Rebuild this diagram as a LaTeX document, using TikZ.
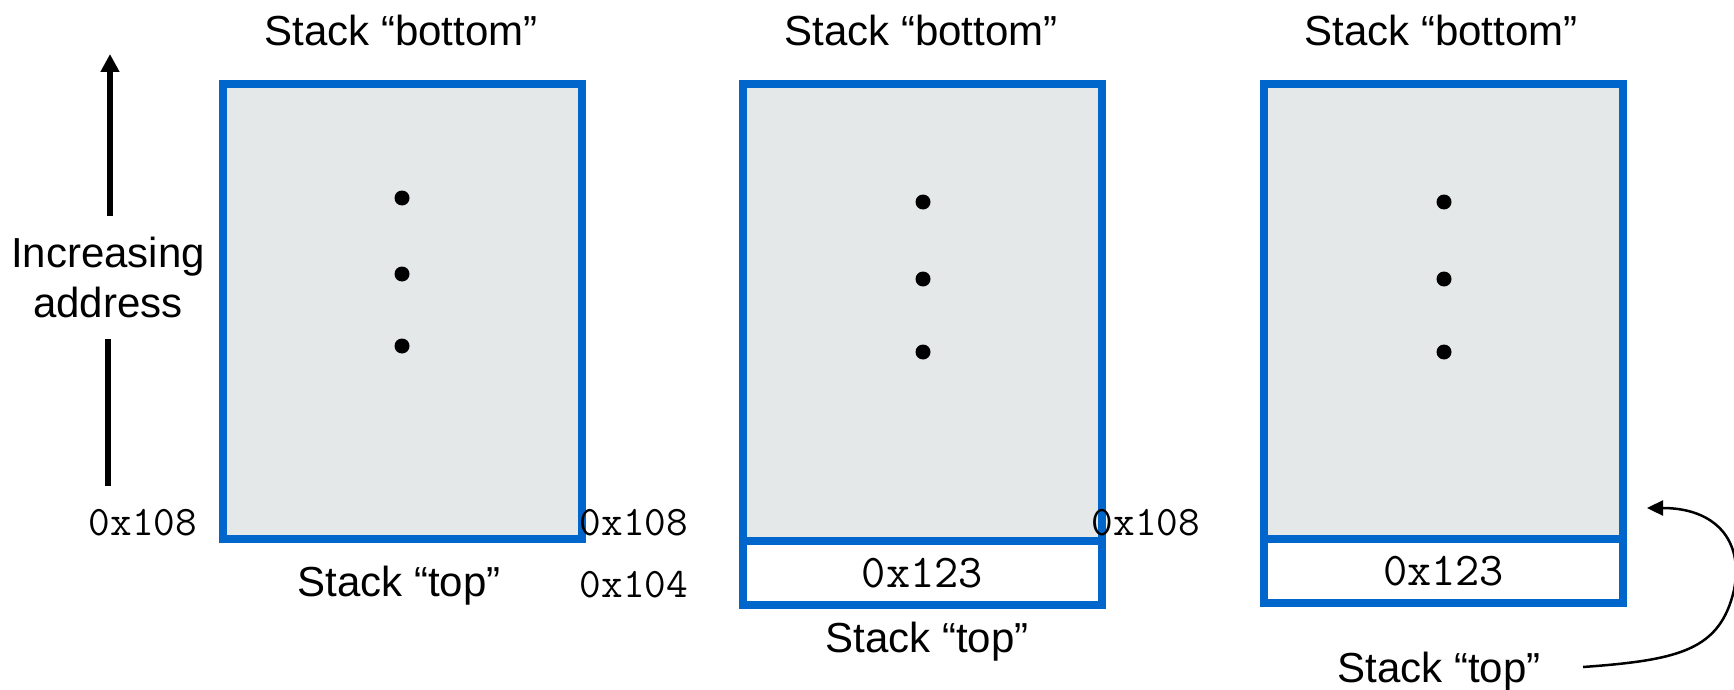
\documentclass[tikz,border=0pt]{standalone}
\usepackage{fontspec}
\setmainfont{Liberation Sans}
\usetikzlibrary{arrows.meta}
\definecolor{boxblue}{RGB}{0,102,204}
\definecolor{boxgray}{RGB}{228,232,233}
\begin{document}
\begin{tikzpicture}[x=1pt,y=-1pt,
  stackbox/.style={draw=boxblue, line width=8pt, fill=boxgray, rectangle, inner sep=0pt, outer sep=0pt, anchor=north west, minimum width=359pt},
  cellbox/.style={draw=boxblue, line width=8pt, fill=white, rectangle, inner sep=0pt, outer sep=0pt, anchor=north west, minimum width=359pt, minimum height=64pt, font=\ttfamily\fontsize{47}{47}\selectfont},
  lbl/.style={font=\fontsize{42}{50}\selectfont, inner sep=0pt, anchor=base},
  addr/.style={font=\ttfamily\fontsize{42}{42}\selectfont, inner sep=0pt, anchor=base},
  dotmark/.style={fill=black, circle, inner sep=0pt, minimum size=15pt},
  uparrow/.style={line width=6pt, -{Triangle[length=18pt,width=18pt]}},
  ptrarrow/.style={line width=2.5pt, -{Triangle[length=16pt,width=15pt]}}
]
\useasboundingbox (0,0) rectangle (1734,690);

% stack 1
\node[stackbox, minimum height=455pt] (s1) at (223,84) {};
\node[dotmark] (d11) at (402,198) {};
\node[dotmark] (d12) at (402,274) {};
\node[dotmark] (d13) at (402,346) {};
\node[lbl] (b1) at (401,46) {Stack “bottom”};
\node[lbl] (t1) at (399,596) {Stack “top”};

% stack 2
\node[stackbox, minimum height=457pt] (s2) at (743,84) {};
\node[cellbox] (c2) at (743,541) {0x123};
\node[dotmark] (d21) at (923,202) {};
\node[dotmark] (d22) at (923,279) {};
\node[dotmark] (d23) at (923,352) {};
\node[lbl] (b2) at (921,46) {Stack “bottom”};
\node[lbl] (t2) at (927,652) {Stack “top”};

% stack 3
\node[stackbox, minimum height=455pt] (s3) at (1264,84) {};
\node[cellbox] (c3) at (1264,539) {0x123};
\node[dotmark] (d31) at (1444,202) {};
\node[dotmark] (d32) at (1444,279) {};
\node[dotmark] (d33) at (1444,352) {};
\node[lbl] (b3) at (1441,46) {Stack “bottom”};
\node[lbl] (t3) at (1439,682) {Stack “top”};

% addresses
\node[addr] (a1) at (143,535) {0x108};
\node[addr] (a2) at (634,535) {0x108};
\node[addr] (a3) at (634,597) {0x104};
\node[addr] (a4) at (1146,535) {0x108};

% increasing address
\node[lbl] (inc1) at (108,267) {Increasing};
\node[lbl] (inc2) at (108,317) {address};
\coordinate (upbot) at (110,216);
\coordinate (uptip) at (110,54);
\coordinate (lowtop) at (108,339);
\coordinate (lowbot) at (108,486);
\draw[uparrow] (upbot) -- (uptip);
\draw[line width=6pt] (lowbot) -- (lowtop);

% pointer arrow
\coordinate (cstart) at (1583,667);
\coordinate (ctip) at (1647,508);
\draw[ptrarrow] (cstart) .. controls (1680,660) and (1720,650) .. (1734,590)
  .. controls (1744,540) and (1715,508) .. (ctip);
\end{tikzpicture}
\end{document}
